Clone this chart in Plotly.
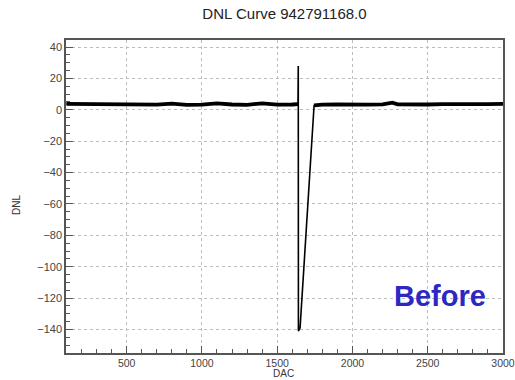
import plotly.graph_objects as go

# ---- data ----
dac_left = [100, 200, 300, 400, 500, 600, 700, 800, 900, 1000, 1100, 1200, 1300, 1400, 1500, 1600, 1638]
dnl_left = [3.8, 3.7, 3.6, 3.4, 3.3, 3.2, 3.3, 3.9, 3.2, 3.3, 4.1, 3.4, 3.2, 4.1, 3.3, 3.4, 3.6]

dac_glitch = [1638, 1640, 1641, 1652, 1745]
dnl_glitch = [3.6, 28.0, -141.0, -139.0, 2.8]

dac_right = [1745, 1800, 1900, 2000, 2100, 2200, 2265, 2300, 2400, 2500, 2600, 2700, 2800, 2900, 3000]
dnl_right = [2.8, 3.3, 3.4, 3.2, 3.3, 3.5, 4.6, 3.5, 3.3, 3.4, 3.6, 3.5, 3.7, 3.6, 3.8]

x_ticks = [500, 1000, 1500, 2000, 2500, 3000]
y_ticks = [40, 20, 0, -20, -40, -60, -80, -100, -120, -140]

title_text = "DNL Curve 942791168.0"
x_title = "DAC"
y_title = "DNL"
label_text = "Before"

FONT = "Liberation Sans, Arial, Helvetica, sans-serif"

fig = go.Figure()
# thin line through the glitch
fig.add_trace(go.Scatter(x=dac_left + dac_glitch[1:] + dac_right[1:],
                         y=dnl_left + dnl_glitch[1:] + dnl_right[1:],
                         mode="lines", line=dict(color="black", width=1.6),
                         hoverinfo="skip", showlegend=False))
# noisy flat parts look thicker
fig.add_trace(go.Scatter(x=dac_left + [None] + dac_right,
                         y=dnl_left + [None] + dnl_right,
                         mode="lines", line=dict(color="black", width=3.8),
                         connectgaps=False, hoverinfo="skip", showlegend=False))

axis_common = dict(
    showline=True, linecolor="#555", linewidth=1.5, mirror=True,
    ticks="inside", ticklen=7, tickcolor="#555", tickwidth=1,
    showgrid=True, gridcolor="#bdbdbd", griddash="dot", gridwidth=1,
    zeroline=False, automargin=False, ticklabeloverflow="allow",
)

def lab(v):
    return str(v).replace("-", "\u2212")

fig.update_xaxes(range=[97, 3000], tickvals=x_ticks, ticktext=[lab(v) for v in x_ticks],
                 tickfont=dict(family=FONT, size=10.5, color="#444"),
                 minor=dict(ticks="inside", ticklen=4, dtick=100, tick0=0, tickcolor="#555", showgrid=False),
                 **axis_common)
fig.update_yaxes(range=[-155, 44.5], tickvals=y_ticks, ticktext=[lab(v) for v in y_ticks],
                 tickfont=dict(family=FONT, size=11, color="#444"),
                 minor=dict(ticks="inside", ticklen=4, dtick=5, tick0=0, tickcolor="#555", showgrid=False),
                 **axis_common)

fig.update_layout(
    width=515, height=380,
    margin=dict(l=66, r=12, t=40, b=27, autoexpand=False),
    paper_bgcolor="white", plot_bgcolor="white",
    title=dict(text=title_text, x=0.5, xref="paper", xanchor="center",
               y=1 - 14 / 380, yref="container", yanchor="middle",
               font=dict(family=FONT, size=15, color="#222")),
    annotations=[
        dict(text=x_title, xref="paper", yref="paper", x=0.497, y=-0.0863,
             xanchor="center", yanchor="bottom", showarrow=False, borderpad=0,
             font=dict(family=FONT, size=10, color="#333")),
        dict(text=y_title, xref="paper", yref="paper", x=-0.112, y=0.473,
             xanchor="center", yanchor="middle", showarrow=False, textangle=-90,
             font=dict(family=FONT, size=10, color="#333")),
        dict(text="<b>" + label_text + "</b>", xref="x", yref="y", x=2582, y=-118.5,
             xanchor="center", yanchor="middle", showarrow=False,
             font=dict(family=FONT, size=29, color="#2d28c4")),
    ],
)

fig.write_html("out.html")
